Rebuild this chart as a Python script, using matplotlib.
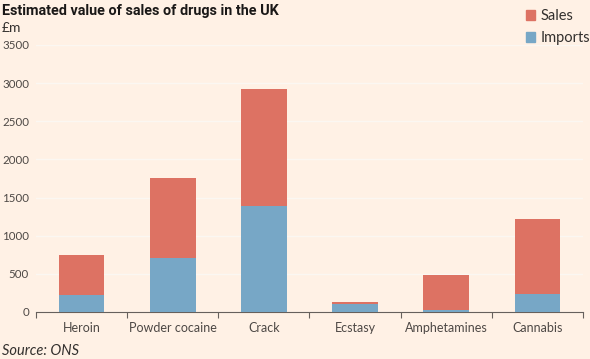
import matplotlib
matplotlib.use("Agg")
import matplotlib.pyplot as plt
import numpy as np
from matplotlib.patches import Patch

categories = ["Heroin", "Powder cocaine", "Crack", "Ecstasy", "Amphetamines", "Cannabis"]
imports = [220, 710, 1395, 108, 25, 240]
totals = [752, 1758, 2920, 133, 490, 1218]
sales = [t - i for t, i in zip(totals, imports)]
yticks = [0, 500, 1000, 1500, 2000, 2500, 3000, 3500]

bg = "#FFF1E5"
red = "#DD7263"
blue = "#77A7C6"

fig = plt.figure(figsize=(5.9, 3.59), dpi=100, facecolor=bg)
ax = fig.add_axes([0.061, 0.131, 0.927, 0.744], facecolor=bg)

x = np.arange(len(categories))
ax.bar(x, imports, width=0.5, color=blue, zorder=3)
ax.bar(x, sales, width=0.5, bottom=imports, color=red, zorder=3)

ax.set_xlim(-0.5, len(categories) - 0.5)
ax.set_ylim(0, 3500)
ax.set_yticks(yticks)
ax.set_yticklabels([str(v) for v in yticks], fontsize=8.3, color="#4d4845", family="Lato")
ax.tick_params(axis="y", length=0, pad=5)
ax.grid(axis="y", color="#FBF7F2", linewidth=1, zorder=0)

ax.set_xticks(x)
ax.set_xticklabels(categories, fontsize=9, color="#4d4845", family="Lato")
ax.tick_params(axis="x", length=0, pad=7)
ax.set_xticks(np.arange(len(categories) + 1) - 0.5, minor=True)
ax.tick_params(axis="x", which="minor", length=4, color="#66605c", width=0.8)

for s in ["top", "right", "left"]:
    ax.spines[s].set_visible(False)
ax.spines["bottom"].set_color("#66605c")
ax.spines["bottom"].set_linewidth(0.8)

fig.text(0.003, 0.988, "Estimated value of sales of drugs in the UK", fontsize=10.4,
         fontweight="bold", family="Roboto", color="#1a1817", va="top", ha="left")
fig.text(0.003, 0.94, "£m", fontsize=10, family="Lato", color="#33302e", va="top", ha="left")
fig.text(0.003, 0.003, "Source: ONS", fontsize=10.5, family="Lato", style="italic",
         color="#33302e", va="bottom", ha="left")

handles = [Patch(color=red, label="Sales"), Patch(color=blue, label="Imports")]
leg = fig.legend(handles=handles, loc="upper right", bbox_to_anchor=(1.022, 1.012),
                 frameon=False, handlelength=0.65, handleheight=0.65,
                 handletextpad=0.35, labelspacing=0.55, prop={"family": "Lato", "size": 10.5})
for t in leg.get_texts():
    t.set_color("#33302e")

fig.savefig("out.png", dpi=100, facecolor=bg)
